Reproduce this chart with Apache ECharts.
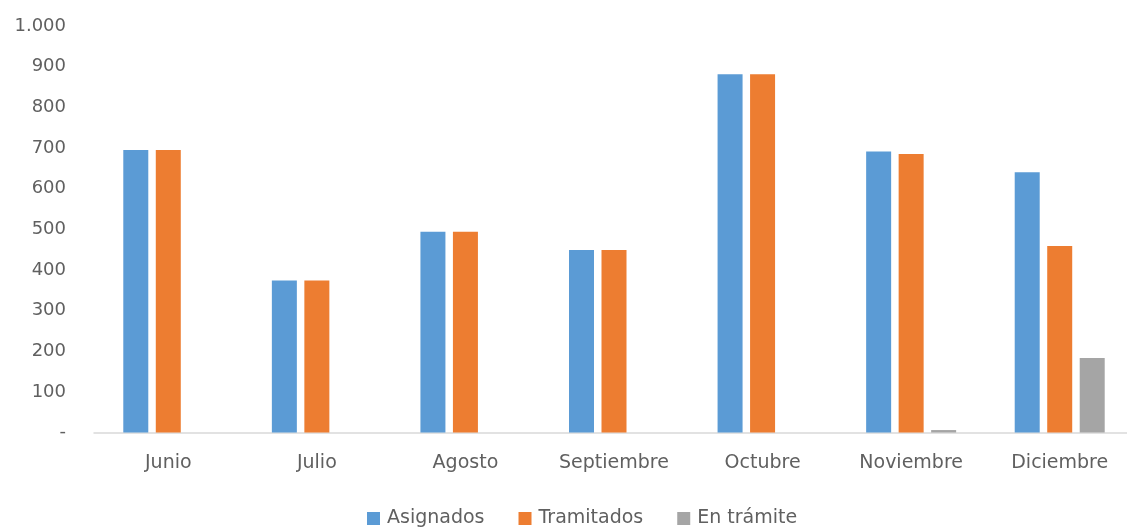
<!DOCTYPE html>
<html><head><meta charset="utf-8">
<script src="https://cdn.jsdelivr.net/npm/echarts@6/dist/echarts.min.js"></script>
<style>html,body{margin:0;padding:0;background:#fff;overflow:hidden}#c{width:1140px;height:529px}</style>
</head><body><div id="c"></div>
<script>
const categories = ['Junio','Julio','Agosto','Septiembre','Octubre','Noviembre','Diciembre'];
const asignados = [695, 374, 494, 449, 881, 691, 640];
const tramitados = [695, 374, 494, 449, 881, 685, 459];
const enTramite = [0, 0, 0, 0, 0, 6, 183];
const seriesNames = ['Asignados','Tramitados','En trámite'];
const colors = ['#5B9BD5','#ED7D31','#A5A5A5'];
const font = '"DejaVu Sans", sans-serif';

const chart = echarts.init(document.getElementById('c'));
function fmt(v){ if(v===0) return '-'; return String(v).replace(/\B(?=(\d{3})+(?!\d))/g,'.'); }
const data = [asignados, tramitados, enTramite];
chart.setOption({
  animation:false,
  textStyle:{fontFamily:font},
  grid:{left:94, width:1040, top:26, bottom:96.5, containLabel:false},
  legend:{
    data:seriesNames, top:509, left:367, padding:0, itemWidth:13, itemHeight:13, itemGap:34,
    icon:'rect', textStyle:{fontSize:19, color:'#606060', fontFamily:font, padding:[0,0,0,2]}
  },
  xAxis:{
    type:'category', data:categories,
    axisLine:{show:true, lineStyle:{color:'#D9D9D9', width:1.5}},
    axisTick:{show:false},
    axisLabel:{fontSize:19, color:'#606060', margin:21, fontFamily:font}
  },
  yAxis:{
    type:'value', min:0, max:1000, interval:100,
    axisLine:{show:false}, axisTick:{show:false}, splitLine:{show:false},
    axisLabel:{fontSize:18, color:'#606060', margin:28, fontFamily:font, formatter:fmt}
  },
  series: seriesNames.map((n,i)=>({
    name:n, type:'bar', data:data[i], barWidth:25, barGap:'30%',
    itemStyle:{color:colors[i]}
  }))
});
</script></body></html>
